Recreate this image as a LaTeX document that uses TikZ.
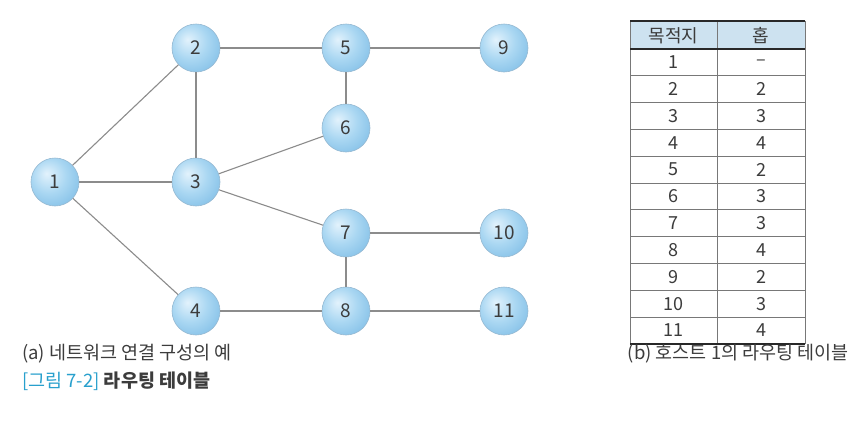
\documentclass[tikz,border=0pt]{standalone}
\usepackage{fontspec}
\setmainfont{Noto Sans CJK KR}
\definecolor{linegray}{RGB}{140,140,140}
\definecolor{bhi}{RGB}{226,242,252}
\definecolor{bmid}{RGB}{170,215,242}
\definecolor{bedge}{RGB}{105,176,224}
\definecolor{brim}{RGB}{150,185,210}
\definecolor{numtext}{RGB}{60,60,60}
\definecolor{headfill}{RGB}{205,226,240}
\definecolor{ruledark}{RGB}{40,40,40}
\definecolor{rulegray}{RGB}{120,120,120}
\definecolor{figblue}{RGB}{40,160,205}
\pgfdeclareradialshading{nodeball}{\pgfpoint{-9bp}{9bp}}{%
  color(0bp)=(bhi); color(18bp)=(bmid); color(45bp)=(bedge); color(60bp)=(bedge)}
\tikzset{
  host/.style={circle, minimum size=48pt, inner sep=0pt, shading=nodeball,
    draw=brim, line width=0.6pt, text=numtext, font=\fontsize{19}{19}\selectfont},
  link/.style={draw=linegray, line width=1.1pt},
  cell/.style={text=numtext, font=\fontsize{18}{18}\selectfont, inner sep=0pt},
  caption/.style={anchor=west, text=numtext, font=\fontsize{18.5}{18.5}\selectfont, inner sep=0pt}
}
\begin{document}
\begin{tikzpicture}[x=1pt,y=-1pt]
\useasboundingbox[fill=white] (0,0) rectangle (860,434);
% network hosts
\node[host] (n1)  at (55,182)  {1};
\node[host] (n2)  at (196,48)  {2};
\node[host] (n3)  at (196,182) {3};
\node[host] (n4)  at (196,311) {4};
\node[host] (n5)  at (346,48)  {5};
\node[host] (n6)  at (346,128) {6};
\node[host] (n7)  at (346,233) {7};
\node[host] (n8)  at (346,311) {8};
\node[host] (n9)  at (504,48)  {9};
\node[host] (n10) at (504,233) {10};
\node[host] (n11) at (504,311) {11};
% links
\foreach \a/\b in {n1/n2,n1/n3,n1/n4,n2/n3,n2/n5,n3/n6,n3/n7,n5/n6,n5/n9,n7/n10,n7/n8,n4/n8,n8/n11}
  \draw[link] (\a) -- (\b);
% routing table
\fill[headfill] (630,21) rectangle (805,49);
\foreach \i in {1,...,10}
  \draw[rulegray, line width=0.7pt] (630,{49+26.8*\i}) -- (805,{49+26.8*\i});
\draw[rulegray, line width=0.8pt] (630,21) -- (630,344);
\draw[rulegray, line width=0.8pt] (805,21) -- (805,344);
\draw[rulegray, line width=0.8pt] (717,21) -- (717,344);
\draw[ruledark, line width=2pt] (630,21) -- (805,21);
\draw[ruledark, line width=2pt] (630,49) -- (805,49);
\draw[ruledark, line width=2pt] (630,344) -- (805,344);
\node[cell] (h1) at (673.5,35.5) {목적지};
\node[cell] (h2) at (761,35.5) {홉};
\foreach \d/\h [count=\r from 0] in {1/--,2/2,3/3,4/4,5/2,6/3,7/3,8/4,9/2,10/3,11/4} {
  \node[cell] (d\d) at (673.5,{62.4+26.8*\r}) {\d};
  \node[cell] (hop\d) at (761,{62.4+26.8*\r}) {\h};
}
% captions
\node[caption] (capa) at (22,354) {(a) 네트워크 연결 구성의 예};
\node[caption, anchor=east] (capb) at (849,354) {(b) 호스트 1의 라우팅 테이블};
\node[caption] (fig) at (22,381)
  {\textcolor{figblue}{[그림 7-2]} \textbf{라우팅 테이블}};
\end{tikzpicture}
\end{document}
